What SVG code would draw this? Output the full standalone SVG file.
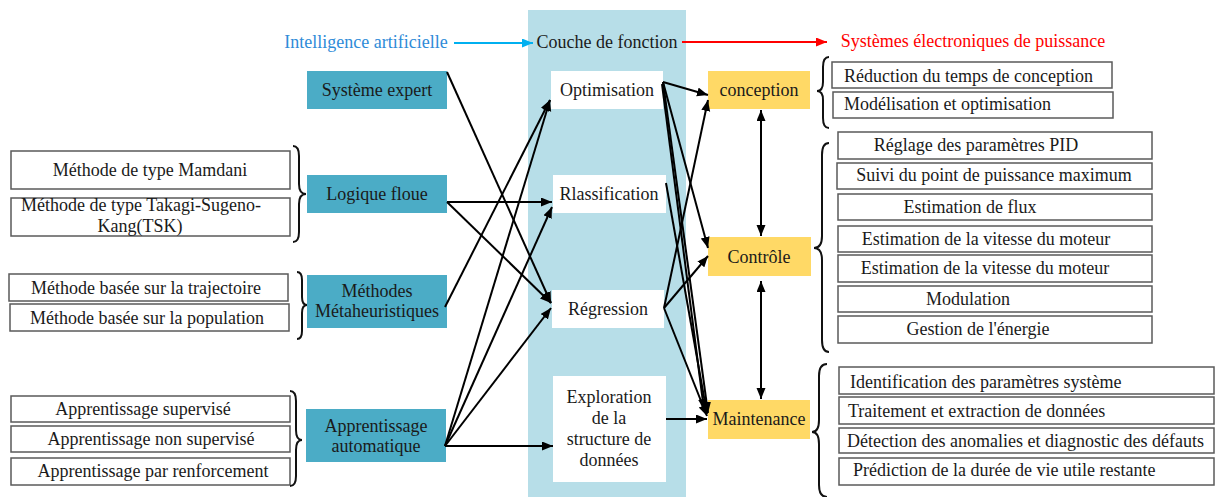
<svg xmlns="http://www.w3.org/2000/svg" width="1219" height="497" viewBox="0 0 1219 497">
<style>
text{font-family:"Liberation Serif","Times New Roman",serif;font-size:18px;fill:#1a1a1a}
.m{text-anchor:middle}
.teal{fill:#4BACC6}
.orange{fill:#FFD966}
.white{fill:#ffffff}
.box{fill:#ffffff;stroke:#5a5a5a;stroke-width:1.5}
.brace{fill:none;stroke:#111;stroke-width:2}
.c line{stroke:#000;stroke-width:2;marker-end:url(#ah)}
</style>
<defs>
<marker id="ah" markerUnits="userSpaceOnUse" markerWidth="12" markerHeight="10" refX="11" refY="4.5" orient="auto"><path d="M0,0 L11,4.5 L0,9 z" fill="#000"/></marker>
<marker id="ahs" markerUnits="userSpaceOnUse" markerWidth="12" markerHeight="10" refX="11" refY="4.5" orient="auto-start-reverse"><path d="M0,0 L11,4.5 L0,9 z" fill="#000"/></marker>
<marker id="ahb" markerUnits="userSpaceOnUse" markerWidth="12" markerHeight="10" refX="11" refY="4.5" orient="auto"><path d="M0,0 L11,4.5 L0,9 z" fill="#00B0F0"/></marker>
<marker id="ahr" markerUnits="userSpaceOnUse" markerWidth="12" markerHeight="10" refX="11" refY="4.5" orient="auto"><path d="M0,0 L11,4.5 L0,9 z" fill="#FF0000"/></marker>
</defs>
<rect width="1219" height="497" fill="#ffffff"/>
<rect id="band" x="528" y="10" width="158" height="487" fill="#B7DEE8"/>

<g id="header">
<text x="366" y="48" class="m" style="fill:#2E8BD8">Intelligence artificielle</text>
<text x="607" y="48" class="m">Couche de fonction</text>
<text x="973" y="47" class="m" style="fill:#FF0000">Systèmes électroniques de puissance</text>
<line x1="454" y1="43" x2="533" y2="43" stroke="#00B0F0" stroke-width="2" marker-end="url(#ahb)"/>
<line x1="682" y1="42" x2="827" y2="42" stroke="#FF0000" stroke-width="2" marker-end="url(#ahr)"/>
</g>

<g id="left-methods">
<g id="mamdani"><rect class="box" x="11" y="151" width="279" height="38"/><text x="150" y="176" class="m">Méthode de type Mamdani</text></g>
<g id="tsk"><rect class="box" x="11" y="198" width="279" height="38"/><text x="141" y="211" class="m">Méthode de type Takagi-Sugeno-</text><text x="140" y="232" class="m">Kang(TSK)</text></g>
<g id="trajectoire"><rect class="box" x="9" y="274" width="279" height="27"/><text x="146" y="294" class="m">Méthode basée sur la trajectoire</text></g>
<g id="population"><rect class="box" x="10" y="304" width="279" height="27"/><text x="147" y="324" class="m">Méthode basée sur la population</text></g>
<g id="supervise"><rect class="box" x="11" y="396" width="279" height="26"/><text x="143" y="415" class="m">Apprentissage supervisé</text></g>
<g id="nonsupervise"><rect class="box" x="11" y="426" width="279" height="26"/><text x="151" y="445" class="m">Apprentissage non supervisé</text></g>
<g id="renforcement"><rect class="box" x="11" y="458" width="279" height="27"/><text x="153" y="477" class="m">Apprentissage par renforcement</text></g>
</g>

<g id="left-braces">
<path class="brace" d="M293,146 Q299,146 299,156 L299,184 Q299,194 306,194 Q299,194 299,204 L299,232 Q299,242 293,242"/>
<path class="brace" d="M297,272 Q302,272 302,280 L302,297 Q302,305 307,305 Q302,305 302,313 L302,331 Q302,339 297,339"/>
<path class="brace" d="M290,391 Q296,391 296,401 L296,430 Q296,440 302,440 Q296,440 296,450 L296,476 Q296,486 290,486"/>
</g>

<g id="systeme-expert"><rect class="teal" x="307" y="71" width="140" height="38"/><text x="377" y="96" class="m">Système expert</text></g>
<g id="logique-floue"><rect class="teal" x="307" y="175" width="140" height="38"/><text x="377" y="200" class="m">Logique floue</text></g>
<g id="metaheuristiques"><rect class="teal" x="307" y="275" width="140" height="53"/><text x="377" y="297" class="m">Méthodes</text><text x="377" y="317" class="m">Métaheuristiques</text></g>
<g id="apprentissage"><rect class="teal" x="306" y="409" width="140" height="53"/><text x="376" y="432" class="m">Apprentissage</text><text x="376" y="452" class="m">automatique</text></g>

<g id="optimisation"><rect class="white" x="551" y="71" width="112" height="38"/><text x="607" y="96" class="m">Optimisation</text></g>
<g id="rlassification"><rect class="white" x="553" y="175" width="113" height="38"/><text x="609" y="200" class="m">Rlassification</text></g>
<g id="regression"><rect class="white" x="552" y="290" width="112" height="38"/><text x="608" y="315" class="m">Régression</text></g>
<g id="exploration"><rect class="white" x="553" y="376" width="113" height="106"/><text x="609" y="403" class="m">Exploration</text><text x="609" y="424" class="m">de la</text><text x="609" y="445" class="m">structure de</text><text x="609" y="466" class="m">données</text></g>

<g id="conception"><rect class="orange" x="708" y="71" width="102" height="38"/><text x="759" y="96" class="m">conception</text></g>
<g id="controle"><rect class="orange" x="708" y="237" width="103" height="39"/><text x="759" y="263" class="m">Contrôle</text></g>
<g id="maintenance"><rect class="orange" x="708" y="400" width="102" height="39"/><text x="759" y="425" class="m">Maintenance</text></g>

<g id="right-braces">
<path class="brace" d="M829,57 Q823,57 823,67 L823,82 Q823,91 817,91 Q823,91 823,100 L823,118 Q823,128 829,128"/>
<path class="brace" d="M829,143 Q822,143 822,155 L822,236 Q822,248 814,248 Q822,248 822,260 L822,340 Q822,352 829,352"/>
<path class="brace" d="M827,364 Q819,364 819,376 L819,420 Q819,432 812,432 Q819,432 819,444 L819,485 Q819,497 827,497"/>
</g>

<g id="right-items">
<g><rect class="box" x="832" y="62" width="280" height="26"/><text x="844" y="82">Réduction du temps de conception</text></g>
<g><rect class="box" x="833" y="92" width="280" height="26"/><text x="844" y="110">Modélisation et optimisation</text></g>
<g><rect class="box" x="838" y="132" width="314" height="27"/><text x="976" y="151" class="m">Réglage des paramètres PID</text></g>
<g><rect class="box" x="837" y="163" width="315" height="26"/><text x="994" y="181" class="m">Suivi du point de puissance maximum</text></g>
<g><rect class="box" x="838" y="194" width="314" height="26"/><text x="970" y="213" class="m">Estimation de flux</text></g>
<g><rect class="box" x="838" y="226" width="314" height="26"/><text x="986" y="245" class="m">Estimation de la vitesse du moteur</text></g>
<g><rect class="box" x="838" y="255" width="314" height="27"/><text x="985" y="274" class="m">Estimation de la vitesse du moteur</text></g>
<g><rect class="box" x="838" y="286" width="314" height="26"/><text x="968" y="305" class="m">Modulation</text></g>
<g><rect class="box" x="838" y="316" width="314" height="27"/><text x="978" y="335" class="m">Gestion de l'énergie</text></g>
<g><rect class="box" x="839" y="367" width="375" height="27"/><text x="850" y="388">Identification des paramètres système</text></g>
<g><rect class="box" x="839" y="397" width="375" height="27"/><text x="848" y="417">Traitement et extraction de données</text></g>
<g><rect class="box" x="839" y="428" width="375" height="25"/><text x="847" y="447">Détection des anomalies et diagnostic des défauts</text></g>
<g><rect class="box" x="839" y="458" width="375" height="27"/><text x="853" y="476">Prédiction de la durée de vie utile restante</text></g>
</g>

<g id="connectors" class="c">
<line x1="447" y1="72" x2="551" y2="303"/>
<line x1="447" y1="202" x2="552" y2="202"/>
<line x1="447" y1="202" x2="551" y2="303"/>
<line x1="445" y1="307" x2="550" y2="100"/>
<line x1="445" y1="446" x2="550" y2="100"/>
<line x1="445" y1="446" x2="552" y2="207"/>
<line x1="445" y1="446" x2="551" y2="308"/>
<line x1="445" y1="446" x2="553" y2="446"/>
<line x1="663" y1="82" x2="708" y2="95"/>
<line x1="663" y1="82" x2="708" y2="248"/>
<line x1="662" y1="84" x2="704" y2="410"/>
<line x1="663" y1="82" x2="708" y2="413"/>
<line x1="666" y1="183" x2="707" y2="414"/>
<line x1="664" y1="308" x2="708" y2="100"/>
<line x1="664" y1="308" x2="708" y2="256"/>
<line x1="664" y1="308" x2="707" y2="416"/>
<line x1="666" y1="419" x2="707" y2="419"/>
<line x1="761" y1="110" x2="761" y2="236" style="marker-start:url(#ahs);marker-end:url(#ahs)"/>
<line x1="761" y1="281" x2="761" y2="399" style="marker-start:url(#ahs);marker-end:url(#ahs)"/>
</g>
</svg>
